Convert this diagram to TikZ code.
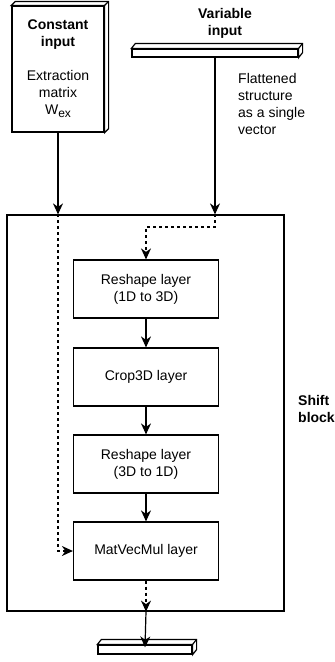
\documentclass[tikz,border=0pt]{standalone}
\usepackage{fontspec}
\setmainfont{Liberation Sans}
\usetikzlibrary{arrows.meta,positioning}
\begin{document}
\begin{tikzpicture}[x=1pt,y=-1pt,
  every node/.style={font=\fontsize{14}{17}\selectfont},
  layerbox/.style={draw,line width=1.2pt,minimum width=145pt,minimum height=58pt,inner sep=0pt,align=center},
  slab/.style={draw,line width=1.2pt,inner sep=0pt,fill=white},
  lbl/.style={align=center,inner sep=0pt},
  arr/.style={line width=1.2pt,-{Stealth[length=11pt,width=10pt,inset=3.5pt]}},
  darr/.style={arr,dash pattern=on 3pt off 3pt},
  face/.style={draw,line width=1.2pt,fill=white,line join=miter}]
\useasboundingbox (0,0) rectangle (335,662);

% Shift block
\node[draw,line width=1.2pt,minimum width=277pt,minimum height=396pt,inner sep=0pt] (shift) at (145.5,413) {};
\node[lbl,align=left,font=\bfseries\fontsize{14}{17}\selectfont,anchor=west] (shiftlbl) at (298,409) {Shift\\block};

% Constant input (3D box)
\node[slab,minimum width=92pt,minimum height=126pt] (cin) at (58,69) {};
\draw[face] (cin.north west) -- ++(4,-4) -- ([shift={(4,-4)}]cin.north east) -- ([shift={(4,-4)}]cin.south east) -- (cin.south east) -- (cin.north east) -- cycle;
\draw[line width=1.2pt] (cin.north east) -- ++(4,-4);
\node[lbl,font=\bfseries\fontsize{14}{17}\selectfont] (cintitle) at (58,35) {Constant\\input};
\node[lbl] (cintext) at (58,94) {Extraction\\matrix\\W{\fontsize{12}{12}\selectfont\raisebox{-3pt}{ex}}};

% Variable input (slab)
\node[lbl,font=\bfseries\fontsize{14}{17}\selectfont] (vintitle) at (225,23) {Variable\\input};
\node[slab,minimum width=166pt,minimum height=8pt] (vin) at (215,53) {};
\draw[face] (vin.north west) -- ++(4,-5) -- ([shift={(4,-5)}]vin.north east) -- ([shift={(4,-5)}]vin.south east) -- (vin.south east) -- (vin.north east) -- cycle;
\draw[line width=1.2pt] (vin.north east) -- ++(4,-5);
\node[lbl,align=left,anchor=north west] (vintext) at (238,73) {Flattened\\structure\\as a single\\vector};

% Layers
\node[layerbox] (r1) at (146,289) {Reshape layer\\(1D to 3D)};
\node[layerbox] (crop) at (146,377) {Crop3D layer};
\node[layerbox] (r2) at (146,464) {Reshape layer\\(3D to 1D)};
\node[layerbox] (mvm) at (146,551) {MatVecMul layer};

% Output slab
\node[slab,minimum width=94pt,minimum height=9pt] (out) at (145,649.5) {};
\draw[face] (out.north west) -- ++(4,-5) -- ([shift={(4,-5)}]out.north east) -- ([shift={(4,-5)}]out.south east) -- (out.south east) -- (out.north east) -- cycle;
\draw[line width=1.2pt] (out.north east) -- ++(4,-5);

% Coordinates on the block border
\coordinate (cin-in) at (cin.south |- shift.north);
\coordinate (vin-in) at (vin.south |- shift.north);
\coordinate (vin-bend) at (215,227);
\coordinate (out-in) at (mvm.south |- shift.south);

% Connectors
\draw[arr] (cin.south) -- (cin-in);
\draw[arr] (vin.south) -- (vin-in);
\draw[darr] (cin-in) |- (mvm.west);
\draw[darr] (vin-in) -- (vin-bend) -| (r1.north);
\draw[arr] (r1) -- (crop);
\draw[arr] (crop) -- (r2);
\draw[arr] (r2) -- (mvm);
\draw[darr] (mvm.south) -- (out-in);
\draw[arr] (out-in) -- ([yshift=-3pt]out.north);
\end{tikzpicture}
\end{document}
